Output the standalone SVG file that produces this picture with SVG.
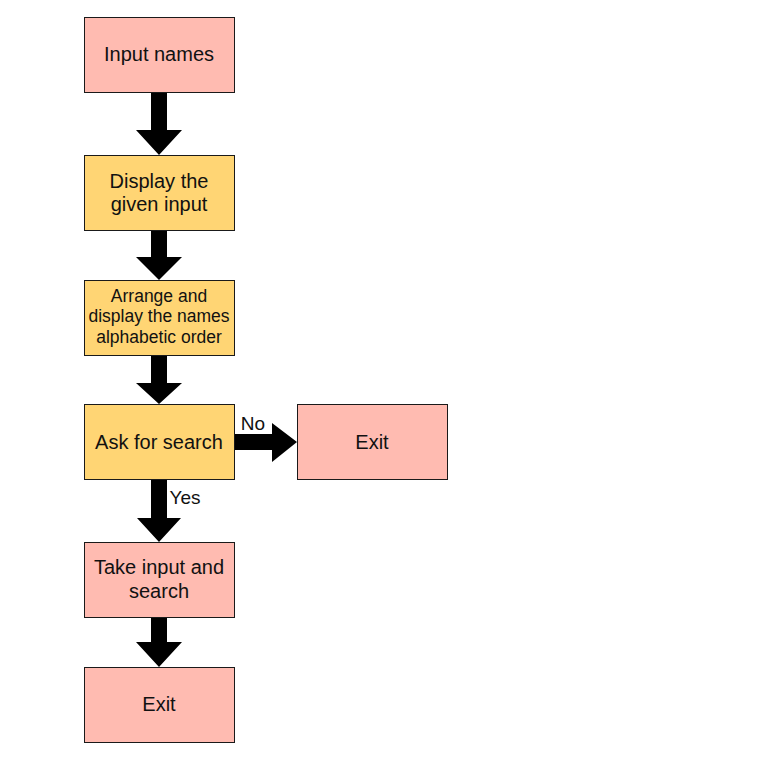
<svg xmlns="http://www.w3.org/2000/svg" width="762" height="763" viewBox="0 0 762 763">
  <style>
    .box { stroke: #1a1a1a; stroke-width: 1; }
    .pink { fill: #FFBBB1; }
    .yellow { fill: #FFD574; }
    .lbl { font-family: "Liberation Sans", Arial, sans-serif; font-size: 20px; fill: #111; text-anchor: middle; dominant-baseline: central; }
    .small { font-size: 17.5px; }
    .edge { font-size: 19px; }
    .arrow { fill: #000; }
  </style>
  <rect width="762" height="763" fill="#fff"/>

  <g id="connectors">
    <!-- Input names -> Display -->
    <polygon class="arrow" points="151,92 167,92 167,130 182,130 159,155 136,130 151,130"/>
    <!-- Display -> Arrange -->
    <polygon class="arrow" points="151,230 167,230 167,257 182,257 159,280 136,257 151,257"/>
    <!-- Arrange -> Ask -->
    <polygon class="arrow" points="151,355 167,355 167,383 182,383 159,404 136,383 151,383"/>
    <!-- Ask -> Exit (No) -->
    <polygon class="arrow" points="234,434 272,434 272,423 297,442 272,462 272,450 234,450"/>
    <text class="lbl edge" x="253" y="423">No</text>
    <!-- Ask -> Take input (Yes) -->
    <polygon class="arrow" points="151,479 167,479 167,518 181,518 159,542 137,518 151,518"/>
    <text class="lbl edge" x="185" y="497">Yes</text>
    <!-- Take input -> Exit -->
    <polygon class="arrow" points="151,617 167,617 167,642 182,642 159,667 136,642 151,642"/>
  </g>

  <g id="input-names">
    <rect class="box pink" x="84.5" y="17.5" width="150" height="75"/>
    <text class="lbl" x="159" y="54">Input names</text>
  </g>

  <g id="display-input">
    <rect class="box yellow" x="84.5" y="155.5" width="150" height="75"/>
    <text class="lbl" x="159" y="181">Display the</text>
    <text class="lbl" x="159" y="204">given input</text>
  </g>

  <g id="arrange-names">
    <rect class="box yellow" x="84.5" y="280.5" width="150" height="75"/>
    <text class="lbl small" x="159" y="296">Arrange and</text>
    <text class="lbl small" x="159" y="316">display the names</text>
    <text class="lbl small" x="159" y="337">alphabetic order</text>
  </g>

  <g id="ask-search">
    <rect class="box yellow" x="84.5" y="404.5" width="150" height="75"/>
    <text class="lbl" x="159" y="442">Ask for search</text>
  </g>

  <g id="exit-no">
    <rect class="box pink" x="297.5" y="404.5" width="150" height="75"/>
    <text class="lbl" x="372" y="442">Exit</text>
  </g>

  <g id="take-input">
    <rect class="box pink" x="84.5" y="542.5" width="150" height="75"/>
    <text class="lbl" x="159" y="567">Take input and</text>
    <text class="lbl" x="159" y="591">search</text>
  </g>

  <g id="exit-end">
    <rect class="box pink" x="84.5" y="667.5" width="150" height="75"/>
    <text class="lbl" x="159" y="704">Exit</text>
  </g>
</svg>
